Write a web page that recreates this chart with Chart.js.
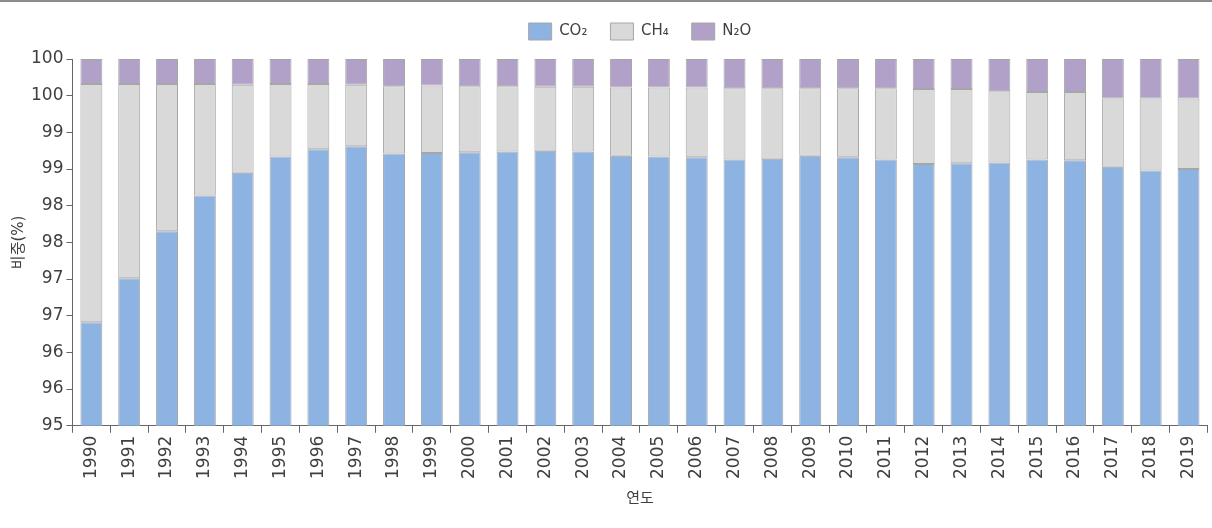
<!DOCTYPE html>
<html>
<head>
<meta charset="utf-8">
<script src="https://cdn.jsdelivr.net/npm/chart.js@4.4.1/dist/chart.umd.min.js"></script>
<style>
  html, body { margin: 0; padding: 0; background: #fff; }
  #wrap { width: 1212px; height: 528px; }
</style>
</head>
<body>
<div id="wrap"><canvas id="chart"></canvas></div>
<script>
// 연도
const years = ['1990', '1991', '1992', '1993', '1994', '1995', '1996', '1997', '1998', '1999',
  '2000', '2001', '2002', '2003', '2004', '2005', '2006', '2007', '2008', '2009',
  '2010', '2011', '2012', '2013', '2014', '2015', '2016', '2017', '2018', '2019'];

// 가스별 비중(%)
const co2 = [96.41, 97.01, 97.65, 98.14, 98.45, 98.67, 98.77, 98.81, 98.71, 98.72,
  98.73, 98.74, 98.75, 98.74, 98.68, 98.67, 98.66, 98.63, 98.64, 98.68,
  98.66, 98.63, 98.57, 98.58, 98.59, 98.63, 98.62, 98.53, 98.48, 98.50];
const ch4 = [3.25, 2.65, 2.01, 1.52, 1.20, 0.99, 0.89, 0.84, 0.92, 0.92,
  0.90, 0.89, 0.87, 0.88, 0.93, 0.94, 0.95, 0.97, 0.96, 0.92,
  0.94, 0.97, 1.02, 1.01, 0.97, 0.92, 0.93, 0.93, 0.98, 0.96];
const n2o = [0.34, 0.34, 0.34, 0.34, 0.35, 0.34, 0.34, 0.35, 0.37, 0.36,
  0.37, 0.37, 0.38, 0.38, 0.39, 0.39, 0.39, 0.40, 0.40, 0.40,
  0.40, 0.40, 0.41, 0.41, 0.44, 0.45, 0.45, 0.54, 0.54, 0.54];

const textColor = '#404040';
const fontFamily = "'DejaVu Sans', 'Noto Sans CJK KR', sans-serif";

// 맨 위 회색 선
const topLine = {
  id: 'topLine',
  beforeDraw(chart) {
    const ctx = chart.ctx;
    ctx.save();
    ctx.strokeStyle = '#8c8c8c';
    ctx.lineWidth = 2;
    ctx.beginPath();
    ctx.moveTo(0, 1);
    ctx.lineTo(chart.width, 1);
    ctx.stroke();
    ctx.restore();
  }
};

// 범례 아래 여백
const legendGap = {
  id: 'legendGap',
  beforeInit(chart) {
    const fit = chart.legend.fit;
    chart.legend.fit = function () {
      fit.bind(chart.legend)();
      this.height += 9;
    };
  }
};

function makeSet(label, data, color) {
  return {
    label: label,
    data: data,
    backgroundColor: color,
    borderColor: '#a6a6a6',
    borderWidth: 1,
    borderSkipped: false,
    barPercentage: 0.58,
    categoryPercentage: 1
  };
}

const ctx = document.getElementById('chart').getContext('2d');
new Chart(ctx, {
  type: 'bar',
  data: {
    labels: years,
    datasets: [
      makeSet('CO₂', co2, '#8db3e2'),
      makeSet('CH₄', ch4, '#d9d9d9'),
      makeSet('N₂O', n2o, '#b1a0c7')
    ]
  },
  options: {
    responsive: true,
    maintainAspectRatio: false,
    animation: false,
    layout: { padding: { top: 0, right: 1, left: 4, bottom: 16 } },
    plugins: {
      legend: {
        position: 'top',
        fullSize: false,
        labels: {
          boxWidth: 23,
          boxHeight: 17,
          padding: 23,
          color: textColor,
          font: { family: fontFamily, size: 15 }
        }
      },
      tooltip: { enabled: false }
    },
    scales: {
      x: {
        stacked: true,
        grid: {
          offset: true,
          drawOnChartArea: false,
          tickLength: 7,
          color: '#666'
        },
        border: { color: '#666' },
        ticks: {
          minRotation: 90,
          maxRotation: 90,
          color: textColor,
          font: { family: fontFamily, size: 17 }
        },
        title: {
          display: true,
          text: '연도',
          color: textColor,
          padding: { top: 8 },
          font: { family: fontFamily, size: 15 }
        }
      },
      y: {
        stacked: true,
        min: 95,
        max: 100,
        grid: {
          drawOnChartArea: false,
          tickLength: 6,
          color: '#666'
        },
        border: { color: '#666' },
        ticks: {
          stepSize: 0.5,
          color: textColor,
          padding: 3,
          font: { family: fontFamily, size: 17 },
          callback: function (v) { return Math.round(v); }
        },
        title: {
          display: true,
          text: '비중(%)',
          color: textColor,
          padding: { top: 6, bottom: 0 },
          font: { family: fontFamily, size: 15 }
        }
      }
    }
  },
  plugins: [topLine, legendGap]
});
</script>
</body>
</html>
